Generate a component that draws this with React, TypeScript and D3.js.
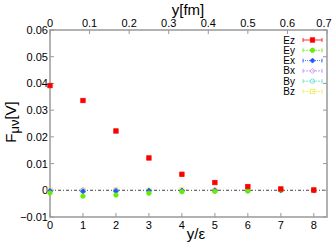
import React from 'react';
import * as d3 from 'd3';

const xs = [0, 1, 2, 3, 4, 5, 6, 7, 8];
const Ez = [0.0392, 0.0336, 0.0222, 0.0121, 0.0060, 0.0029, 0.0014, 0.0005, 0.0001];
const Ey = [-0.0010, -0.0022, -0.0018, -0.0011, -0.0005, -0.0004, -0.0002, 0.0002, 0.0000];
const Ex = [-0.0003, -0.0004, -0.0003, -0.0002, -0.0001, -0.0001, -0.0001, 0.0000, 0.0000];
const Bx = [0.0000, 0.0002, 0.0001, 0.0000, 0.0000, 0.0002, 0.0000, 0.0001, -0.0002];
const By = [-0.0006, -0.0004, -0.0002, -0.0003, -0.0005, -0.0003, -0.0003, -0.0001, 0.0000];
const Bz = [0.0001, 0.0000, 0.0001, 0.0000, 0.0001, 0.0000, 0.0000, 0.0003, 0.0001];
const xTicks = [0, 1, 2, 3, 4, 5, 6, 7, 8];
const topTicks = [0, 0.1, 0.2, 0.3, 0.4, 0.5, 0.6, 0.7];
const yTicks = [-0.01, 0, 0.01, 0.02, 0.03, 0.04, 0.05, 0.06];

const series = [
  { name: 'Ez', data: Ez, color: '#ff0000', shape: 'square', fill: true },
  { name: 'Ey', data: Ey, color: '#66ee00', shape: 'circle', fill: true },
  { name: 'Ex', data: Ex, color: '#2255ff', shape: 'diamond', fill: true },
  { name: 'Bx', data: Bx, color: '#bb88ff', shape: 'diamond', fill: false },
  { name: 'By', data: By, color: '#55ddcc', shape: 'circle', fill: false },
  { name: 'Bz', data: Bz, color: '#eeee44', shape: 'square', fill: false },
];

const W = 333, H = 244;
const L = 50, R = 327, T = 30, B = 217;

function Marker({ x, y, s }: any) {
  const fill = s.fill ? s.color : 'none';
  if (s.shape === 'square')
    return <rect x={x - 2.2} y={y - 2.2} width={4.4} height={4.4} fill={fill} stroke={s.color} strokeWidth={0.8} />;
  if (s.shape === 'circle')
    return <circle cx={x} cy={y} r={2.2} fill={fill} stroke={s.color} strokeWidth={0.8} />;
  return <path d={`M${x},${y - 2.5}L${x + 2.5},${y}L${x},${y + 2.5}L${x - 2.5},${y}Z`} fill={fill} stroke={s.color} strokeWidth={0.8} />;
}

export default function App() {
  const x = d3.scaleLinear().domain([0, 8.4]).range([L, R]);
  const xTop = d3.scaleLinear().domain([0, 0.7]).range([L, R]);
  const y = d3.scaleLinear().domain([-0.01, 0.06]).range([B, T]);
  const axisColor = '#999';
  const font = 'Liberation Sans, Arial, sans-serif';
  return (
    <svg width={W} height={H} style={{ position: 'absolute', left: 0, top: 0 }} fontFamily={font}>
      <rect x={0} y={0} width={W} height={H} fill="white" />
      {/* zero line */}
      <line x1={L} x2={R} y1={y(0)} y2={y(0)} stroke="#444" strokeWidth={1} strokeDasharray="3,2,1,2" />
      {/* frame */}
      <rect x={L} y={T} width={R - L} height={B - T} fill="none" stroke={axisColor} strokeWidth={1.5} />
      {xTicks.map(t => (
        <g key={'b' + t}>
          <line x1={x(t)} x2={x(t)} y1={B} y2={B - 4} stroke={axisColor} />
          <text x={x(t)} y={B + 12} fontSize={11} textAnchor="middle">{t}</text>
        </g>
      ))}
      {topTicks.map(t => (
        <g key={'t' + t}>
          <line x1={xTop(t)} x2={xTop(t)} y1={T} y2={T + 4} stroke={axisColor} />
          <text x={Math.min(xTop(t), 324)} y={T - 3} fontSize={11} textAnchor="middle">{t}</text>
        </g>
      ))}
      {yTicks.map(t => (
        <g key={'y' + t}>
          <line x1={L} x2={L + 4} y1={y(t)} y2={y(t)} stroke={axisColor} />
          <line x1={R} x2={R - 4} y1={y(t)} y2={y(t)} stroke={axisColor} />
          <text x={L - 2} y={y(t) + 4} fontSize={11} textAnchor="end">{t === 0 ? '0' : d3.format('.2f')(t)}</text>
        </g>
      ))}
      <text x={188} y={15} fontSize={15} textAnchor="middle">y[fm]</text>
      <text x={196} y={239} fontSize={15} textAnchor="middle">y/ε</text>
      <text transform="translate(16,122) rotate(-90)" fontSize={15} textAnchor="middle">
        F<tspan fontSize={13} dy={3}>μν</tspan><tspan dy={-3}>[V]</tspan>
      </text>
      {series.slice().reverse().map(s => (
        <g key={s.name}>
          {s.data.map((v, i) => <Marker key={i} x={x(xs[i])} y={y(v)} s={s} />)}
        </g>
      ))}
      {series.map((s, i) => {
        const ly = 40 + i * 10.3;
        return (
          <g key={'l' + s.name}>
            <text x={295} y={ly + 3.5} fontSize={10} textAnchor="end">{s.name}</text>
            <line x1={303} x2={322} y1={ly} y2={ly} stroke={s.color} strokeWidth={0.8}
              strokeDasharray={i === 0 ? undefined : i === 2 ? '1,1' : '2,1'} />
            <line x1={303} x2={303} y1={ly - 2} y2={ly + 2} stroke={s.color} strokeWidth={0.8} />
            <line x1={322} x2={322} y1={ly - 2} y2={ly + 2} stroke={s.color} strokeWidth={0.8} />
            <Marker x={312.5} y={ly} s={s} />
          </g>
        );
      })}
    </svg>
  );
}
